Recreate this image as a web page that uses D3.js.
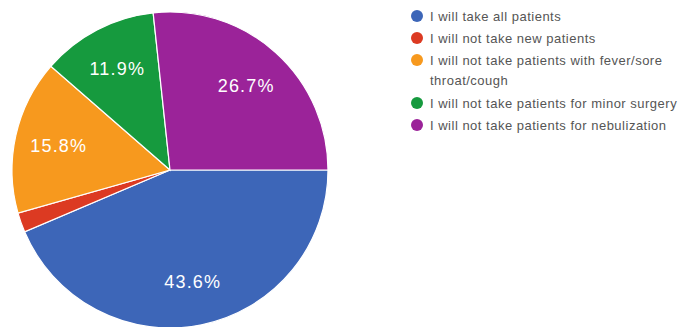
<!DOCTYPE html>
<html>
<head>
<meta charset="utf-8">
<script src="https://cdn.jsdelivr.net/npm/d3@7"></script>
<style>
  html, body { margin: 0; padding: 0; background: #fff; }
  svg { display: block; }
</style>
</head>
<body>
<svg id="chart" width="680" height="327"></svg>
<script>
// Survey responses (percent of respondents)
const categories = [
  "I will take all patients",
  "I will not take new patients",
  "I will not take patients with fever/sore\nthroat/cough",
  "I will not take patients for minor surgery",
  "I will not take patients for nebulization"
];
const values = [43.6, 2.0, 15.8, 11.9, 26.7];
const colors = ["#3d66b8", "#dc3a22", "#f7991e", "#169a3e", "#9b2399"];

const svg = d3.select("#chart");
const cx = 170, cy = 170, R = 158;

const data = categories.map((c, i) => ({ label: c, value: values[i], color: colors[i] }));

// Slices run clockwise, the first one beginning at 3 o'clock
const pie = d3.pie().sort(null).value(d => d.value)
  .startAngle(Math.PI / 2).endAngle(Math.PI / 2 + 2 * Math.PI);
const arcs = pie(data);

const arc = d3.arc().innerRadius(0).outerRadius(R);
const labelArc = d3.arc().innerRadius(114).outerRadius(114);

const g = svg.append("g").attr("transform", `translate(${cx},${cy})`);

g.selectAll("path.slice")
  .data(arcs)
  .join("path")
  .attr("class", "slice")
  .attr("d", arc)
  .attr("fill", d => d.data.color)
  .attr("stroke", "#ffffff")
  .attr("stroke-width", 1.2);

// Percent labels on slices large enough to hold them
g.selectAll("text.pct")
  .data(arcs.filter(d => d.data.value >= 5))
  .join("text")
  .attr("class", "pct")
  .attr("transform", d => `translate(${labelArc.centroid(d)})`)
  .attr("text-anchor", "middle")
  .attr("dy", "0.36em")
  .attr("fill", "#ffffff")
  .attr("font-family", "Liberation Sans, Arial, sans-serif")
  .attr("font-size", 18)
  .attr("letter-spacing", 1.2)
  .text(d => d.data.value.toFixed(1) + "%");

// Legend
const legend = svg.append("g").attr("transform", "translate(417,16)");
const lineH = 20;
let yPos = 0;
data.forEach(d => {
  const lines = d.label.split("\n");
  const row = legend.append("g").attr("transform", `translate(0,${yPos})`);
  row.append("circle").attr("r", 6).attr("fill", d.color);
  const t = row.append("text")
    .attr("x", 13)
    .attr("y", 0)
    .attr("fill", "#555555")
    .attr("font-family", "Liberation Sans, Arial, sans-serif")
    .attr("font-size", 13)
    .attr("letter-spacing", 0.5);
  lines.forEach((ln, i) => {
    t.append("tspan").attr("x", 13).attr("dy", i === 0 ? "0.35em" : lineH).text(ln);
  });
  yPos += 22 + (lines.length - 1) * lineH + (lines.length > 1 ? 1 : 0);
});
</script>
</body>
</html>
